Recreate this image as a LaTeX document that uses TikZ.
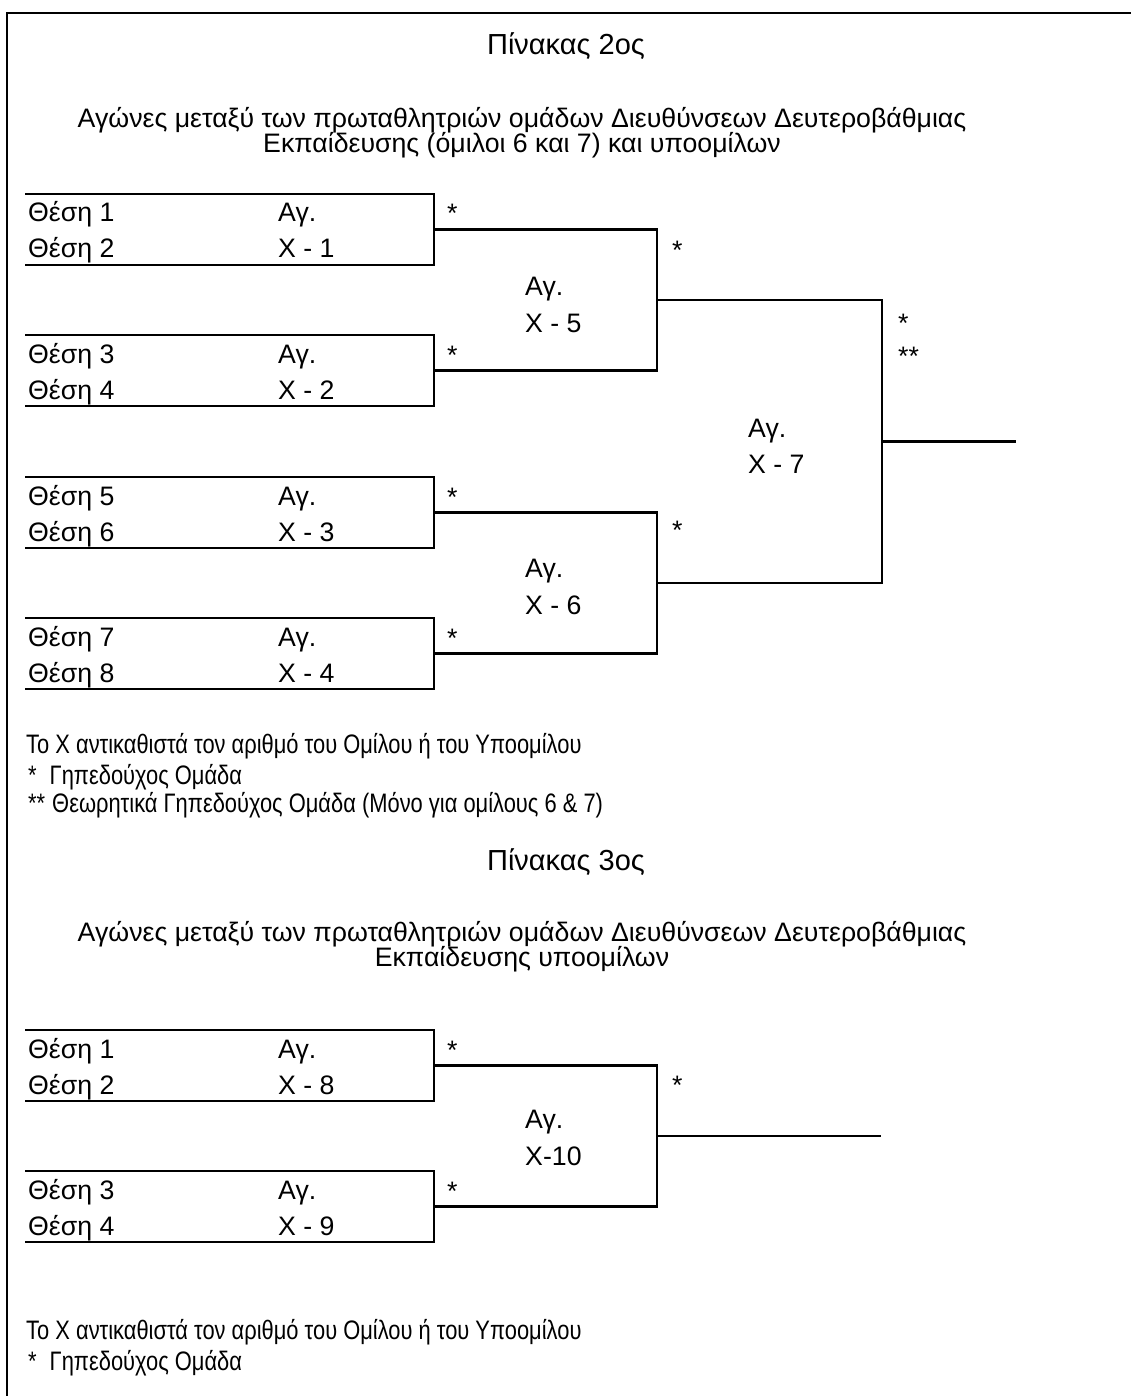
\documentclass[tikz,border=0pt]{standalone}
\usepackage{fontspec}
\setmainfont{Liberation Sans}
\newfontfamily\narrowfont[FakeStretch=0.82]{Liberation Sans}
\tikzset{
  lin/.style={line width=2.2pt, line cap=rect},
  txt/.style={anchor=base west, inner sep=0pt, font=\fontsize{26.7}{32}\selectfont},
  ctxt/.style={anchor=base, inner sep=0pt, font=\fontsize{26.7}{32}\selectfont},
  ttl/.style={anchor=base, inner sep=0pt, font=\fontsize{29}{34}\selectfont},
  note/.style={anchor=base west, inner sep=0pt, font=\narrowfont\fontsize{26.7}{32}\selectfont},
}
\begin{document}
\begin{tikzpicture}[x=1pt,y=-1pt]
\useasboundingbox (0,0) rectangle (1131,1396);
% frame
\coordinate (fbl) at (7,1396);
\coordinate (ftl) at (7,13);
\coordinate (ftr) at (1131,13);
\draw[lin, line cap=butt] (fbl) -- (ftl) -- (ftr);

% ---------- Table 2 ----------
\node[ttl] (t2) at (566,55) {Πίνακας 2ος};
\node[ctxt] (s2a) at (522,128) {Αγώνες μεταξύ των πρωταθλητριών ομάδων Διευθύνσεων Δευτεροβάθμιας};
\node[ctxt] (s2b) at (522,153) {Εκπαίδευσης (όμιλοι 6 και 7) και υποομίλων};

\foreach \i/\t/\a/\b/\m in {1/194/1/2/1, 2/335/3/4/2, 3/477/5/6/3, 4/618/7/8/4}{
  \coordinate (b\i tl) at (26,\t);
  \coordinate (b\i tr) at (434,\t);
  \coordinate (b\i br) at (434,\t+71);
  \coordinate (b\i bl) at (26,\t+71);
  \coordinate (b\i m) at (434,\t+35.5);
  \draw[lin] (b\i tl) -- (b\i tr) -- (b\i br) -- (b\i bl);
  \node[txt] (p\a) at (28,\t+28) {Θέση \a};
  \node[txt] (p\b) at (28,\t+64) {Θέση \b};
  \node[txt] (g\i a) at (278,\t+28) {Αγ.};
  \node[txt] (g\i b) at (278,\t+64) {X - \m};
  \node[txt] (st\i) at (447,\t+29) {*};
}
% round 2
\coordinate (j1t) at (657,229.5);
\coordinate (j1b) at (657,370.5);
\coordinate (j1m) at (657,300);
\coordinate (j2t) at (657,512.5);
\coordinate (j2b) at (657,653.5);
\coordinate (j2m) at (657,583);
\draw[lin] (b1m) -- (j1t) -- (j1b) -- (b2m);
\draw[lin] (b3m) -- (j2t) -- (j2b) -- (b4m);
\node[txt] (g5a) at (525,295) {Αγ.};
\node[txt] (g5b) at (525,332) {X - 5};
\node[txt] (g6a) at (525,577) {Αγ.};
\node[txt] (g6b) at (525,614) {X - 6};
\node[txt] (st5) at (672,260) {*};
\node[txt] (st6) at (672,539) {*};
% final
\coordinate (k1t) at (882,300);
\coordinate (k1b) at (882,583);
\coordinate (k1m) at (882,441.5);
\coordinate (fin) at (1015,441.5);
\draw[lin] (j1m) -- (k1t) -- (k1b) -- (j2m);
\draw[lin] (k1m) -- (fin);
\node[txt] (g7a) at (748,437) {Αγ.};
\node[txt] (g7b) at (748,473) {X - 7};
\node[txt] (st7) at (898,332) {*};
\node[txt] (st8) at (898,365) {**};

\node[note] (n1) at (26,753) {Το X αντικαθιστά τον αριθμό του Ομίλου ή του Υποομίλου};
\node[note] (n2) at (28,784) {*\hspace{13pt}Γηπεδούχος Ομάδα};
\node[note] (n3) at (28,812) {**\hspace{7pt}Θεωρητικά Γηπεδούχος Ομάδα (Μόνο για ομίλους 6 \& 7)};

% ---------- Table 3 ----------
\node[ttl] (t3) at (566,870) {Πίνακας 3ος};
\node[ctxt] (s3a) at (522,941) {Αγώνες μεταξύ των πρωταθλητριών ομάδων Διευθύνσεων Δευτεροβάθμιας};
\node[ctxt] (s3b) at (522,966) {Εκπαίδευσης υποομίλων};

\foreach \i/\t/\a/\b/\m in {5/1030/1/2/8, 6/1171/3/4/9}{
  \coordinate (b\i tl) at (26,\t);
  \coordinate (b\i tr) at (434,\t);
  \coordinate (b\i br) at (434,\t+71);
  \coordinate (b\i bl) at (26,\t+71);
  \coordinate (b\i m) at (434,\t+35.5);
  \draw[lin] (b\i tl) -- (b\i tr) -- (b\i br) -- (b\i bl);
  \node[txt] (q\a) at (28,\t+28) {Θέση \a};
  \node[txt] (q\b) at (28,\t+64) {Θέση \b};
  \node[txt] (h\i a) at (278,\t+28) {Αγ.};
  \node[txt] (h\i b) at (278,\t+64) {X - \m};
  \node[txt] (sq\i) at (447,\t+29) {*};
}
\coordinate (j3t) at (657,1065.5);
\coordinate (j3b) at (657,1206.5);
\coordinate (j3m) at (657,1136);
\coordinate (fin3) at (880,1136);
\draw[lin] (b5m) -- (j3t) -- (j3b) -- (b6m);
\draw[lin] (j3m) -- (fin3);
\node[txt] (h10a) at (525,1128) {Αγ.};
\node[txt] (h10b) at (525,1165) {X-10};
\node[txt] (sq7) at (672,1094) {*};

\node[note] (n4) at (26,1339) {Το X αντικαθιστά τον αριθμό του Ομίλου ή του Υποομίλου};
\node[note] (n5) at (28,1370) {*\hspace{13pt}Γηπεδούχος Ομάδα};
\end{tikzpicture}
\end{document}
